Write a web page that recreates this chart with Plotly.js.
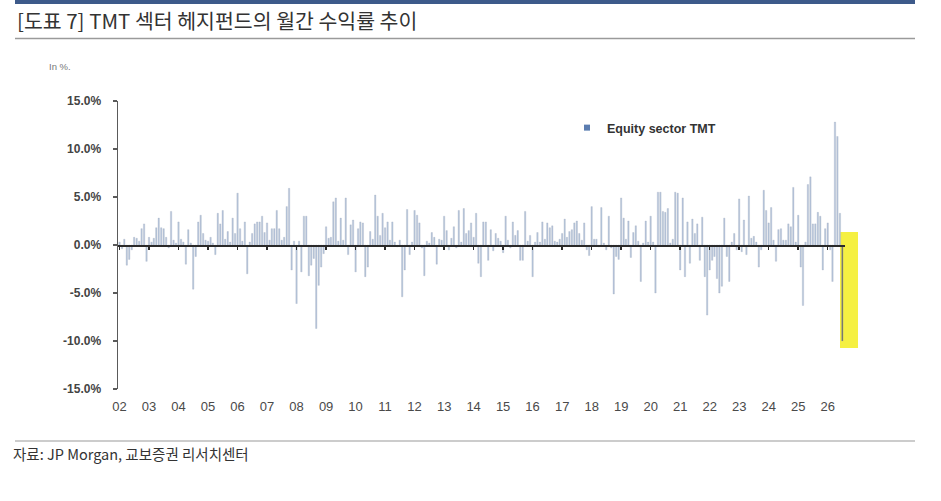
<!DOCTYPE html>
<html>
<head>
<meta charset="utf-8">
<script src="https://cdn.plot.ly/plotly-3.0.1.min.js"></script>
<style>
  html, body { margin: 0; padding: 0; background: #fff; }
  #chart { width: 941px; height: 501px; }
</style>
</head>
<body>
<div id="chart"></div>
<script>
// monthly returns, in %, Jan 2002 onwards
var startYear = 2002;
var tmtMonthly = [
	0.3, -0.4, 0.6, -2.1, -1.5, -0.5, 0.8, 0.7, 0.4, 1.7, 2.2, -1.7,     // 02
	0.8, 0.3, 0.7, 1.8, 2.8, 1.8, 1.7, 0.8, -0.3, 3.5, 0.5, 0.2,         // 03
	2.4, 0.6, 0.3, -2.0, 1.6, 0.2, -4.6, -1.2, 2.4, 3.1, 1.2, 0.5,       // 04
	0.4, 0.8, 0.2, -1.0, 3.3, 2.2, 3.6, 0.6, 1.4, 0.3, 2.8, 1.2,         // 05
	5.4, 1.7, 0.4, 2.4, -3.0, 0.3, 1.2, 2.2, 2.4, 2.4, 3.0, 1.3,         // 06
	2.3, 0.5, 1.7, 1.7, 3.6, 1.7, 0.5, 0.8, 4.0, 5.9, -2.6, 0.4,         // 07
	-6.1, 0.4, -2.8, 3.0, 3.0, -3.2, -2.1, -1.4, -8.7, -4.2, -2.3, -0.9, // 08
	1.9, 0.7, 0.8, 4.5, 4.9, 0.4, 2.8, 0.5, 4.9, -1.0, 2.1, 2.6,         // 09
	-2.8, 1.7, 2.4, 2.3, -3.3, -2.3, 1.4, 0.6, 5.2, 3.0, 1.0, 3.3,       // 10
	1.8, 2.4, 0.5, 2.4, 0.3, -0.2, 0.5, -5.4, -2.6, 3.7, -1.0, 0.3,      // 11
	3.6, 3.1, 2.3, -0.3, -3.2, 0.4, 0.2, 1.3, 0.8, -2.0, 0.6, 0.5,       // 12
	3.0, 1.5, -0.5, 0.7, 1.9, -0.3, 3.6, 0.3, 3.8, 1.2, 1.5, 2.3,        // 13
	0.8, 3.3, -1.9, -3.3, 2.4, 2.4, -1.6, 1.6, -0.6, 1.2, 0.7, 0.4,      // 14
	-0.8, 3.0, 0.5, -0.3, 2.4, 1.0, 1.5, -1.6, -1.6, 3.5, 0.4, 1.0,      // 15
	-3.3, 0.3, 1.3, 0.3, 2.4, 0.6, 2.3, 1.8, 2.0, 0.4, 0.3, 0.6,         // 16
	1.2, 2.7, 0.8, 1.4, 1.6, 2.3, 2.5, 1.2, 0.5, 2.3, -0.5, -1.1,        // 17
	4.0, 0.6, 0.6, -0.2, 3.9, 0.2, -0.5, 3.0, -0.3, -5.1, -1.2, -1.5,    // 18
	4.9, 2.8, 0.6, 2.5, -1.3, 1.3, 2.0, 0.4, -3.8, 0.2, 2.5, 0.3,        // 19
	3.0, 0.3, -5.0, 5.5, 5.5, 3.5, 3.4, 3.8, 0.2, 0.6, 5.5, 5.4,         // 20
	-2.6, 4.9, -3.3, 2.4, -1.9, 2.7, 1.2, 2.2, -1.6, 2.9, -3.3, -7.3,    // 21
	-2.6, -1.6, -1.2, -3.5, -5.0, -4.3, 2.8, -1.2, -3.8, 0.3, 1.2, -0.5, // 22
	4.8, -0.7, 2.6, -1.0, 5.1, 0.7, 0.9, 0.3, -2.3, -0.5, 5.7, 3.6,      // 23
	2.3, 3.9, 0.5, -1.7, 1.6, 1.7, 0.5, 0.5, 2.2, 1.9, 6.0, 0.3,         // 24
	3.1, -2.3, -6.3, 0.3, 6.3, 7.1, 2.2, 2.2, 3.4, 3.0, -2.6, 1.7,       // 25
	2.3, -0.5, -3.8, 12.8, 11.3, 3.3, -10.0                              // 26
];
var yTicks = [-15, -10, -5, 0, 5, 10, 15];
var seriesName = 'Equity sector TMT';

// px -> paper helpers (plot area is 118..845 x 101..389)
var L = 118, R = 845, T = 101, B = 389;
function px(x) { return (x - L) / (R - L); }
function py(y) { return (B - y) / (B - T); }

function pad(n) { return (n < 10 ? '0' : '') + n; }

function drawChart() {
	var dates = [];
	var colors = [];
	for (var i = 0; i < tmtMonthly.length; i++) {
		var yy = startYear + Math.floor(i / 12);
		var mm = i % 12 + 1;
		dates.push(yy + '-' + pad(mm) + '-01');
		colors.push(i == tmtMonthly.length - 1 ? '#6f705c' : '#b6c5db');
	}

	var tickText = yTicks.map(function(v) { return v.toFixed(1) + '%'; });

	var bars = {
		x: dates,
		y: tmtMonthly,
		type: 'bar',
		name: seriesName,
		showlegend: false,
		marker: { color: colors, line: { width: 0.3, color: '#a4aebf' } },
		hoverinfo: 'x+y'
	};

	// legend swatch only, sits on the zero-line axis
	var legendItem = {
		x: [null], y: [null],
		type: 'scatter', mode: 'markers',
		name: seriesName,
		xaxis: 'x2',
		marker: { symbol: 'square', size: 6, color: '#5b7db0' }
	};

	var layout = {
		width: 941,
		height: 501,
		margin: { l: L, r: 941 - R, t: T, b: 501 - B },
		paper_bgcolor: '#ffffff',
		plot_bgcolor: 'rgba(0,0,0,0)',
		bargap: 0.38,
		font: { family: 'Liberation Sans, Arial, sans-serif', color: '#444' },
		xaxis: {
			type: 'date',
			range: ['2001-12-13', '2026-08-03'],
			dtick: 'M12',
			tick0: '2002-01-01',
			tickformat: '%y',
			showgrid: false,
			zeroline: false,
			showline: false,
			ticks: '',
			ticklabelstandoff: 8,
			tickfont: { size: 13, color: '#4a4a4a' }
		},
		xaxis2: {
			type: 'date',
			matches: 'x',
			overlaying: 'x',
			anchor: 'free',
			position: 0.5,
			side: 'bottom',
			dtick: 'M12',
			tick0: '2002-01-01',
			showgrid: false,
			zeroline: false,
			showline: true,
			linecolor: '#2a2a2a',
			linewidth: 1.5,
			ticks: 'outside',
			ticklen: 3,
			tickwidth: 1.5,
			tickcolor: '#2a2a2a',
			showticklabels: false
		},
		yaxis: {
			range: [-15, 15],
			tickvals: yTicks,
			ticktext: tickText,
			showgrid: false,
			zeroline: false,
			showline: true,
			linecolor: '#5a5a5a',
			linewidth: 1.5,
			ticks: 'outside',
			ticklen: 4,
			tickwidth: 1.5,
			tickcolor: '#5a5a5a',
			ticklabelstandoff: 9,
			tickfont: { size: 12, color: '#444', weight: 'bold' }
		},
		showlegend: true,
		legend: {
			x: px(567), y: py(128),
			xanchor: 'left', yanchor: 'middle',
			bgcolor: 'rgba(0,0,0,0)',
			itemwidth: 30,
			font: { size: 12.5, color: '#333', weight: 'bold' }
		},
		shapes: [
			// top band
			{ type: 'rect', xref: 'paper', yref: 'paper', x0: px(15), x1: px(915), y0: py(0), y1: py(4),
			  fillcolor: '#3d5a8a', line: { width: 0 } },
			// title underline
			{ type: 'line', xref: 'paper', yref: 'paper', x0: px(15), x1: px(915), y0: py(38.5), y1: py(38.5),
			  line: { color: '#9a9a9a', width: 1.5 } },
			// bottom rule
			{ type: 'line', xref: 'paper', yref: 'paper', x0: px(15), x1: px(915), y0: py(441), y1: py(441),
			  line: { color: '#9a9a9a', width: 1.2 } },
			// yellow highlight of the last month
			{ type: 'rect', xref: 'paper', yref: 'paper', x0: px(840), x1: px(858), y0: py(348), y1: py(232),
			  fillcolor: '#f4ee2e', opacity: 0.9, line: { width: 0 }, layer: 'below' }
		],
		annotations: [
			{ text: '[도표 7] TMT 섹터 헤지펀드의 월간 수익률 추이', xref: 'paper', yref: 'paper',
			  x: px(15), y: py(20), xanchor: 'left', yanchor: 'middle', showarrow: false,
			  font: { family: 'Noto Sans CJK KR, sans-serif', size: 20.5, color: '#333' } },
			{ text: 'In %.', xref: 'paper', yref: 'paper',
			  x: px(47), y: py(66), xanchor: 'left', yanchor: 'middle', showarrow: false,
			  font: { size: 9.5, color: '#777' } },
			{ text: '자료: JP Morgan, 교보증권 리서치센터', xref: 'paper', yref: 'paper',
			  x: px(11), y: py(453), xanchor: 'left', yanchor: 'middle', showarrow: false,
			  font: { family: 'Noto Sans CJK KR, sans-serif', size: 14.5, color: '#333' } }
		]
	};

	Plotly.newPlot('chart', [bars, legendItem], layout, { displayModeBar: false, staticPlot: true });
}

window.onload = drawChart;
</script>
</body>
</html>
